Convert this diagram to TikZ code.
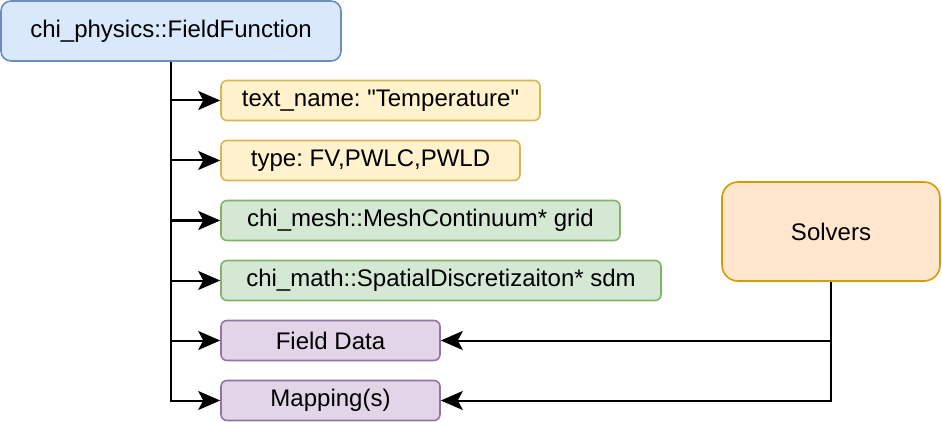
\documentclass[tikz,border=0pt]{standalone}
\usepackage{fontspec}
\setmainfont{Liberation Sans}[Ligatures=TeXOff]
\usetikzlibrary{arrows.meta}
\frenchspacing

\definecolor{blueF}{HTML}{DAE8FC}\definecolor{blueD}{HTML}{6C8EBF}
\definecolor{yelF}{HTML}{FFF2CC}\definecolor{yelD}{HTML}{D6B656}
\definecolor{grnF}{HTML}{D5E8D4}\definecolor{grnD}{HTML}{82B366}
\definecolor{purF}{HTML}{E1D5E7}\definecolor{purD}{HTML}{9673A6}
\definecolor{orF}{HTML}{FFE6CC}\definecolor{orD}{HTML}{D79B00}

\tikzset{
  box/.style={rectangle, rounded corners=6pt, line width=1.6pt, inner sep=0pt,
    minimum height=40pt, font=\fontsize{24}{28}\selectfont},
  blu/.style={box, fill=blueF, draw=blueD},
  yel/.style={box, fill=yelF, draw=yelD},
  grn/.style={box, fill=grnF, draw=grnD},
  pur/.style={box, fill=purF, draw=purD},
  orn/.style={box, fill=orF, draw=orD},
  arr/.style={line width=2pt, -{Stealth[length=22pt,width=19pt,inset=5pt]}}
}

\begin{document}
\begin{tikzpicture}[x=1pt, y=-1pt]
    \useasboundingbox (0,0) rectangle (942,422);
    \node[blu, minimum width=340pt, minimum height=60pt, rounded corners=10pt] (ff) at (171,31) {chi\_physics::FieldFunction};
    \node[yel, minimum width=319pt] (name) at (380.5,100.5) {text\_name: "Temperature"};
    \node[yel, minimum width=299pt] (type) at (370.5,160.5) {type: FV,PWLC,PWLD};
    \node[grn, minimum width=399pt] (mesh) at (420.5,220.5) {chi\_mesh::MeshContinuum* grid};
    \node[grn, minimum width=440pt] (sdm) at (441,280.5) {chi\_math::SpatialDiscretizaiton* sdm};
    \node[pur, minimum width=219pt] (data) at (330.5,340.5) {Field Data};
    \node[pur, minimum width=219pt] (map) at (330.5,400.5) {Mapping(s)};
    \node[orn, minimum width=218pt, minimum height=99pt, rounded corners=16pt] (solv) at (831,231.5) {Solvers};
    % members
    \foreach \m in {name,type,mesh,sdm,data,map}
        \draw[arr] (ff.south) |- (\m.west);
    % solvers
    \draw[arr] (solv.south) |- (data.east);
    \draw[arr] (solv.south) |- (map.east);
\end{tikzpicture}
\end{document}
